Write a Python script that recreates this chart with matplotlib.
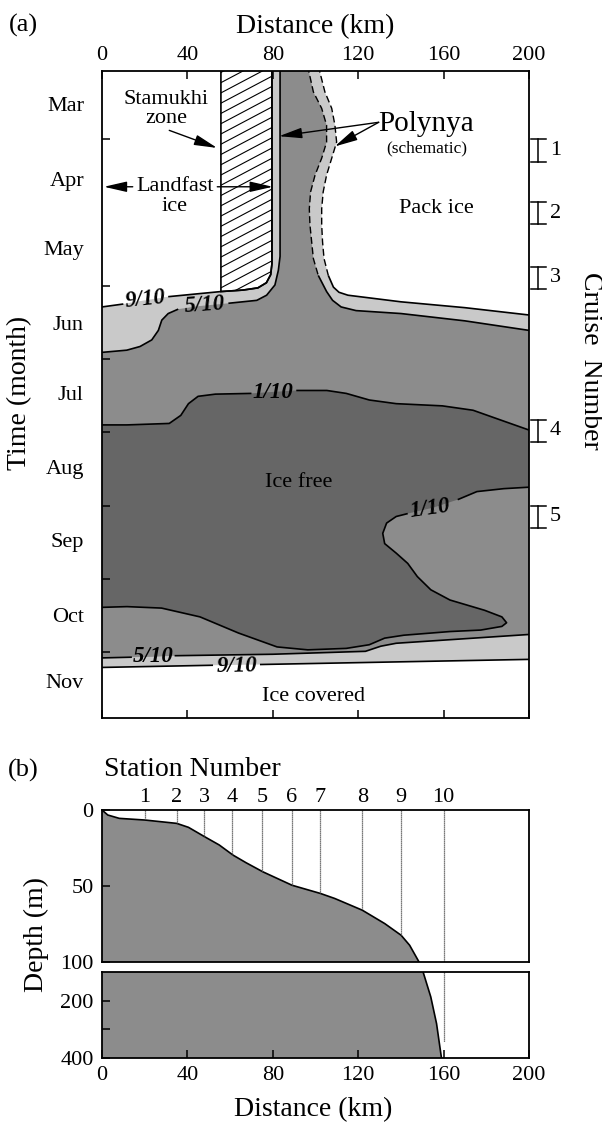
import numpy as np
import matplotlib
matplotlib.use("Agg")
import matplotlib.pyplot as plt
from matplotlib.patches import Polygon

plt.rcParams['font.family'] = ['Liberation Serif', 'DejaVu Serif']

# ---------------- panel (a) data: distance (km) vs time (months after 1 Mar)
months = ['Mar', 'Apr', 'May', 'Jun', 'Jul', 'Aug', 'Sep', 'Oct', 'Nov']
month_pos = [0.52, 1.54, 2.48, 3.51, 4.47, 5.47, 6.47, 7.49, 8.40]
month_ticks = [1, 3, 4, 5, 6, 7, 8]

# upper 9/10 contour west of the stamukhi zone
landfast_x = [0, 10, 20, 31, 45]
landfast_t = [3.29, 3.25, 3.20, 3.15, 3.11]
# stamukhi (hatched) zone outline
stamukhi_x = [55.7, 55.7, 66, 73, 77, 79, 79.6, 79.6]
stamukhi_t = [0.0, 3.08, 3.06, 3.03, 2.96, 2.85, 2.70, 0.0]

# polynya east edge, 9/10 (outer) and 5/10 (inner)
outer_x = [101.3, 104.4, 107.6, 109.1, 109.9, 107.6, 105.2, 103.6, 102.9, 102.9,
           103.3, 104.0, 106.0, 108.4, 111.0, 115.2, 140, 170, 200]
outer_t = [0.0, 0.355, 0.58, 0.81, 1.04, 1.26, 1.49, 1.72, 1.95, 2.17,
           2.40, 2.63, 2.86, 3.02, 3.09, 3.13, 3.22, 3.30, 3.40]
inner_x = [96.3, 99.0, 102.9, 105.2, 105.2, 102.9, 99.8, 97.7, 97.1, 97.4,
           98.2, 99.0, 101.3, 105.2, 108.0, 112.0, 119.0, 140, 170, 200]
inner_t = [0.0, 0.355, 0.58, 0.81, 1.04, 1.26, 1.49, 1.72, 1.95, 2.17,
           2.40, 2.63, 2.86, 3.08, 3.20, 3.29, 3.34, 3.38, 3.48, 3.61]

# upper 5/10 contour (west side of polynya)
c50_top_x = [0, 11.6, 17.8, 23.3, 26.4, 28.0, 31.0, 35.7, 45, 59.2, 72.5, 77.1, 81.0, 82.6, 83.4, 83.4]
c50_top_t = [3.91, 3.88, 3.83, 3.74, 3.61, 3.47, 3.38, 3.32, 3.28, 3.24, 3.20, 3.13, 2.99, 2.79, 2.60, 0.0]

# upper 1/10 contour
c10_top_x = [0, 11.7, 31.5, 36.9, 40.5, 45.0, 53.1, 70, 80, 91, 105.3, 114.4, 125.2, 137.8, 159.4, 173.8, 186.4, 200]
c10_top_t = [4.90, 4.90, 4.88, 4.77, 4.61, 4.51, 4.48, 4.47, 4.45, 4.43, 4.43, 4.47, 4.56, 4.61, 4.64, 4.70, 4.83, 4.97]

# lower / eastern 1/10 contour (from east edge back to west edge)
lobe_x = [200, 188.2, 175.6, 166.6, 155.0, 143.2, 137.8, 133.3, 131.5, 132.4, 137.8, 143.2, 147.7, 154.0,
          163.0, 179.2, 187.3, 189.5, 187.3, 177.4, 163.0, 141.4, 132.4, 125.2, 114.4, 96.4, 82.0,
          63.9, 45.9, 27.9, 11.7, 0]
lobe_t = [5.75, 5.77, 5.81, 5.92, 6.03, 6.11, 6.15, 6.24, 6.38, 6.52, 6.65, 6.79, 6.97, 7.15,
          7.29, 7.43, 7.52, 7.60, 7.65, 7.70, 7.72, 7.77, 7.81, 7.90, 7.95, 7.97, 7.93,
          7.74, 7.52, 7.40, 7.38, 7.39]

# lower 5/10 and 9/10 contours
c50_bot_x = [0, 14, 24, 34, 80, 123.4, 130.6, 137.8, 200]
c50_bot_t = [8.08, 8.07, 8.065, 8.05, 8.03, 7.99, 7.92, 7.88, 7.76]
c90_bot_x = [0, 52, 63, 74, 200]
c90_bot_t = [8.21, 8.18, 8.175, 8.17, 8.10]

# cruises (start, end in months)
cruise_id = ['1', '2', '3', '4', '5']
cruise_t0 = [1.00, 1.86, 2.74, 4.83, 6.00]
cruise_t1 = [1.31, 2.16, 3.05, 5.13, 6.31]

# ---------------- panel (b) data
station_km = [20, 35, 48, 61, 75, 89, 102, 122, 140, 160]
station_depth = [6.6, 8.8, 17.6, 29.7, 40.7, 49.5, 54.9, 65.9, 82.4, 344]
shelf_x = [0, 2.7, 8.1, 20.1, 35, 40.5, 48.1, 54.9, 61.4, 67.5, 75.4, 89, 102.3, 109, 121.9, 132.4, 140.1, 144.1, 148.5]
shelf_d = [0, 3.3, 5.5, 6.6, 8.8, 11.4, 17.6, 23, 29.7, 34.7, 40.7, 49.5, 54.9, 58.2, 65.9, 74.7, 82.4, 89, 100]
slope_x = [150.4, 154, 156.7, 159]
slope_d = [100, 187, 280, 400]

LIGHT, MID, DARK = '#c9c9c9', '#8c8c8c', '#666666'
LW = 1.2
W, H = 602, 1124


def fx(px):
    return px / W


def fy(py):
    return 1 - py / H


def line(ax, x, y, skip=(), **kw):
    x = np.array(x, float)
    y = np.array(y, float)
    x[list(skip)] = np.nan
    ax.plot(x, y, color='k', lw=kw.pop('lw', LW), solid_capstyle='butt', **kw)


fig = plt.figure(figsize=(W / 100, H / 100), dpi=100)

# ================= panel (a)
ax = fig.add_axes([fx(102), fy(718), fx(427), 647 / H])
ax.set_xlim(0, 200)
ax.set_ylim(8.9, 0.07)

light_x = landfast_x + stamukhi_x[1:] + outer_x + c90_bot_x[::-1]
light_t = landfast_t + stamukhi_t[1:] + outer_t + c90_bot_t[::-1]
ax.fill(light_x, light_t, color=LIGHT, lw=0)
ax.fill(c50_top_x + inner_x + c50_bot_x[::-1], c50_top_t + inner_t + c50_bot_t[::-1], color=MID, lw=0)
ax.fill(c10_top_x + lobe_x, c10_top_t + lobe_t, color=DARK, lw=0)

hatch = Polygon(np.column_stack([stamukhi_x, stamukhi_t]), closed=True,
                facecolor='white', edgecolor='k', lw=LW)
ax.add_patch(hatch)
for c in np.arange(-0.6, 3.6, 0.14):
    ln, = ax.plot([55, 81], [c, c - 0.0154 * 26], color='k', lw=0.8)
    ln.set_clip_path(hatch)

# contour lines (gaps where labels sit)
line(ax, landfast_x + stamukhi_x[1:], landfast_t + stamukhi_t[1:], skip=[2])
line(ax, c50_top_x, c50_top_t, skip=[8])
line(ax, c10_top_x, c10_top_t, skip=[8])
line(ax, lobe_x, lobe_t, skip=[4])
line(ax, c50_bot_x, c50_bot_t, skip=[2])
line(ax, c90_bot_x, c90_bot_t, skip=[2])
line(ax, outer_x[:13], outer_t[:13], lw=1.0, dashes=(5, 2.5))
line(ax, outer_x[12:], outer_t[12:])
line(ax, inner_x[:13], inner_t[:13], lw=1.0, dashes=(5, 2.5))
line(ax, inner_x[12:], inner_t[12:])

lab = dict(fontsize=16.5, fontweight='bold', fontstyle='italic', ha='center', va='center')
ax.text(20.5, 3.19, '9/10', rotation=6, **lab)
ax.text(48.2, 3.27, '5/10', rotation=4, **lab)
ax.text(80.0, 4.46, '1/10', **lab)
ax.text(153.7, 6.05, '1/10', rotation=8, **lab)
ax.text(24.0, 8.065, '5/10', **lab)
ax.text(63.0, 8.19, '9/10', rotation=1, **lab)

txt = dict(fontsize=16, ha='center', va='center')
ax.text(30, 0.59, 'Stamukhi\nzone', linespacing=0.95, **txt)
ax.text(34.2, 1.65, 'Landfast', **txt)
ax.text(34.2, 1.92, 'ice', **txt)
ax.text(152, 0.80, 'Polynya', fontsize=21, ha='center', va='center')
ax.text(152, 1.12, '(schematic)', fontsize=12.5, ha='center', va='center')
ax.text(156.7, 1.94, 'Pack ice', **txt)
ax.text(91.9, 5.68, 'Ice free', **txt)
ax.text(99.1, 8.61, 'Ice covered', **txt)

arr = dict(arrowstyle='-|>,head_length=0.7,head_width=0.16', color='k', lw=1.0,
           shrinkA=0, shrinkB=0, mutation_scale=20)
ax.annotate('', xy=(53.9, 1.12), xytext=(31.5, 0.88), arrowprops=arr)
ax.annotate('', xy=(0.9, 1.65), xytext=(14.4, 1.65), arrowprops=arr)
ax.annotate('', xy=(80.0, 1.65), xytext=(54.0, 1.65), arrowprops=arr)
ax.annotate('', xy=(82.9, 0.96), xytext=(129.6, 0.77), arrowprops=arr)
ax.annotate('', xy=(109.0, 1.10), xytext=(129.6, 0.77), arrowprops=arr)

ax.set_xticks([0, 40, 80, 120, 160, 200])
ax.tick_params(axis='x', direction='in', length=6, width=1.1, top=True, bottom=True,
               labeltop=True, labelbottom=False, labelsize=16, pad=4)
ax.set_yticks(month_ticks)
ax.set_yticklabels([])
ax.set_yticks(month_pos, minor=True)
ax.set_yticklabels(months, minor=True)
ax.tick_params(axis='y', which='major', direction='in', length=6, width=1.1, left=True, right=False)
ax.tick_params(axis='y', which='minor', length=0, labelsize=16, pad=13)
for s in ax.spines.values():
    s.set_linewidth(1.3)

# cruise bars on the right
tr = ax.get_yaxis_transform()
for cid, t0, t1 in zip(cruise_id, cruise_t0, cruise_t1):
    ax.plot([1.021, 1.021], [t0, t1], color='k', lw=1.1, transform=tr, clip_on=False)
    for tt in (t0, t1):
        ax.plot([1.005, 1.040], [tt, tt], color='k', lw=1.1, transform=tr, clip_on=False)
    ax.text(1.062, (t0 + t1) / 2, cid, fontsize=16, ha='center', va='center', transform=tr)

fig.text(fx(23), fy(25), '(a)', fontsize=19, ha='center', va='center')
fig.text(fx(315), fy(27), 'Distance (km)', fontsize=20, ha='center', va='center')
fig.text(fx(20), fy(393), 'Time (month)', fontsize=20, rotation=90, ha='center', va='center')
fig.text(fx(590), fy(361), 'Cruise  Number', fontsize=20, rotation=270, ha='center', va='center')

# ================= panel (b)
b1 = fig.add_axes([fx(102), fy(962), fx(427), 152 / H])
b2 = fig.add_axes([fx(102), fy(1058), fx(427), 86 / H])
b1.set_xlim(0, 200)
b1.set_ylim(100, 0)
b2.set_xlim(0, 200)
b2.set_ylim(400, 100)

b1.fill(shelf_x + [0], shelf_d + [100], color=MID, lw=0)
b1.plot(shelf_x, shelf_d, color='k', lw=LW)
b2.fill([0] + slope_x + [0], [100] + slope_d + [400], color=MID, lw=0)
b2.plot(slope_x, slope_d, color='k', lw=LW)

sk = np.array(station_km)
sd = np.array(station_depth)
b1.vlines(sk, 0, np.minimum(sd, 100), color='0.3', lw=0.9, linestyles=(0, (1, 0.6)))
b2.vlines(sk[sd > 100], 100, sd[sd > 100], color='0.3', lw=0.9, linestyles=(0, (1, 0.6)))

b1.set_yticks([0, 50, 100])
b1.set_yticklabels(['0', '50', '100'])
b1.tick_params(axis='y', direction='in', length=6, width=1.1, labelsize=16, pad=6)
b1.xaxis.set_ticks_position('top')
b1.set_xticks(station_km)
b1.set_xticklabels([str(i) for i in range(1, 11)])
b1.tick_params(axis='x', length=0, labelsize=16, pad=2)

b2.set_yticks([200, 300, 400])
b2.set_yticklabels(['200', '', '400'])
b2.tick_params(axis='y', direction='in', length=6, width=1.1, labelsize=16, pad=6)
b2.set_xticks([0, 40, 80, 120, 160, 200])
b2.tick_params(axis='x', direction='in', length=6, width=1.1, labelsize=16, pad=6)
for a in (b1, b2):
    for s in a.spines.values():
        s.set_linewidth(1.3)

fig.text(fx(23), fy(770), '(b)', fontsize=19, ha='center', va='center')
fig.text(fx(104), fy(770), 'Station Number', fontsize=20, ha='left', va='center')
fig.text(fx(36), fy(935), 'Depth (m)', fontsize=20, rotation=90, ha='center', va='center')
fig.text(fx(313), fy(1110), 'Distance (km)', fontsize=20, ha='center', va='center')

fig.savefig('out.png', dpi=100)
